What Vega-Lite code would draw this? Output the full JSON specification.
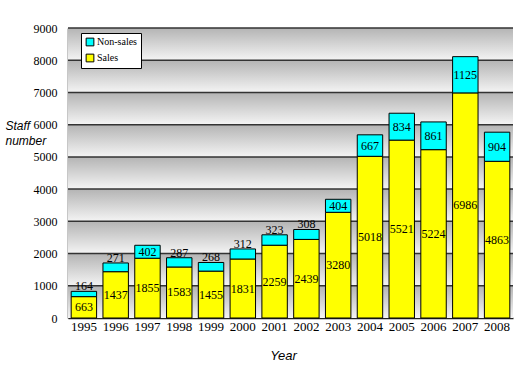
{
  "$schema": "https://vega.github.io/schema/vega-lite/v6.json",
  "width": 445,
  "height": 290,
  "autosize": "none",
  "padding": {"left": 68, "top": 28, "right": 7, "bottom": 68},
  "background": "white",
  "config": {
    "view": {"stroke": null},
    "axis": {"labelColor": "black", "domainColor": "#222", "domainWidth": 1.5, "grid": false, "labelFont": "Liberation Serif"},
    "axisY": {
      "ticks": false,
      "labelPadding": 11,
      "labelFont": "Liberation Serif",
      "labelFontSize": 12,
      "titleAngle": 0,
      "titleAlign": "left",
      "titleBaseline": "alphabetic",
      "titleX": -63,
      "titleY": 101,
      "titleLineHeight": 15,
      "titleFont": "Liberation Sans",
      "titleFontStyle": "italic",
      "titleFontWeight": "normal",
      "titleFontSize": 12,
      "titleColor": "black"
    },
    "axisX": {
      "labelAngle": 0,
      "labelFont": "Liberation Serif",
      "labelFontSize": 13,
      "labelPadding": 9,
      "ticks": true,
      "bandPosition": 0,
      "tickSize": -7,
      "tickColor": "#222",
      "tickWidth": 1.5,
      "titleFont": "Liberation Sans",
      "titleFontStyle": "italic",
      "titleFontWeight": "normal",
      "titleFontSize": 13,
      "titleColor": "black",
      "titleX": 215,
      "titleY": 41,
      "titleBaseline": "alphabetic"
    }
  },
  "datasets": {
    "staff": [
      {"year": "1995", "type": "Sales", "value": 663}, {"year": "1995", "type": "Non-sales", "value": 164},
      {"year": "1996", "type": "Sales", "value": 1437}, {"year": "1996", "type": "Non-sales", "value": 271},
      {"year": "1997", "type": "Sales", "value": 1855}, {"year": "1997", "type": "Non-sales", "value": 402},
      {"year": "1998", "type": "Sales", "value": 1583}, {"year": "1998", "type": "Non-sales", "value": 287},
      {"year": "1999", "type": "Sales", "value": 1455}, {"year": "1999", "type": "Non-sales", "value": 268},
      {"year": "2000", "type": "Sales", "value": 1831}, {"year": "2000", "type": "Non-sales", "value": 312},
      {"year": "2001", "type": "Sales", "value": 2259}, {"year": "2001", "type": "Non-sales", "value": 323},
      {"year": "2002", "type": "Sales", "value": 2439}, {"year": "2002", "type": "Non-sales", "value": 308},
      {"year": "2003", "type": "Sales", "value": 3280}, {"year": "2003", "type": "Non-sales", "value": 404},
      {"year": "2004", "type": "Sales", "value": 5018}, {"year": "2004", "type": "Non-sales", "value": 667},
      {"year": "2005", "type": "Sales", "value": 5521}, {"year": "2005", "type": "Non-sales", "value": 834},
      {"year": "2006", "type": "Sales", "value": 5224}, {"year": "2006", "type": "Non-sales", "value": 861},
      {"year": "2007", "type": "Sales", "value": 6986}, {"year": "2007", "type": "Non-sales", "value": 1125},
      {"year": "2008", "type": "Sales", "value": 4863}, {"year": "2008", "type": "Non-sales", "value": 904}
    ],
    "bands": [
      {"lo": 0, "hi": 1000}, {"lo": 1000, "hi": 2000}, {"lo": 2000, "hi": 3000},
      {"lo": 3000, "hi": 4000}, {"lo": 4000, "hi": 5000}, {"lo": 5000, "hi": 6000},
      {"lo": 6000, "hi": 7000}, {"lo": 7000, "hi": 8000}, {"lo": 8000, "hi": 9000}
    ]
  },
  "layer": [
    {
      "data": {"name": "bands"},
      "mark": {
        "type": "rect",
        "color": {
          "gradient": "linear", "x1": 0, "y1": 0, "x2": 0, "y2": 1,
          "stops": [{"offset": 0, "color": "#b4b4b4"}, {"offset": 1, "color": "#f4f4f4"}]
        }
      },
      "encoding": {
        "y": {
          "field": "lo", "type": "quantitative",
          "scale": {"domain": [0, 9000], "nice": false},
          "axis": {"values": [0, 1000, 2000, 3000, 4000, 5000, 6000, 7000, 8000, 9000], "format": "d", "title": ["Staff", "number"], "labelFont": "Liberation Serif", "labelFontSize": 12}
        },
        "y2": {"field": "hi"}
      }
    },
    {
      "data": {"name": "bands"},
      "mark": {"type": "rule", "color": "#333333", "strokeWidth": 1.5},
      "encoding": {
        "y": {"field": "hi", "type": "quantitative",
          "axis": {"values": [0, 1000, 2000, 3000, 4000, 5000, 6000, 7000, 8000, 9000], "format": "d", "title": ["Staff", "number"], "labelFont": "Liberation Serif", "labelFontSize": 12}}
      }
    },
    {
      "data": {"name": "staff"},
      "mark": {"type": "bar", "stroke": "black", "strokeWidth": 1},
      "encoding": {
        "x": {
          "field": "year", "type": "ordinal",
          "scale": {"paddingInner": 0.2, "paddingOuter": 0.1},
          "axis": {"title": "Year", "labelFont": "Liberation Serif", "labelFontSize": 13}
        },
        "y": {"field": "value", "type": "quantitative", "stack": "zero",
          "axis": {"values": [0, 1000, 2000, 3000, 4000, 5000, 6000, 7000, 8000, 9000], "format": "d", "title": ["Staff", "number"], "labelFont": "Liberation Serif", "labelFontSize": 12}},
        "color": {
          "field": "type", "type": "nominal",
          "scale": {"domain": ["Non-sales", "Sales"], "range": ["#00ffff", "#ffff00"]},
          "legend": {
            "orient": "none",
            "legendX": 13,
            "legendY": 5,
            "title": null,
            "fillColor": "white",
            "strokeColor": "black",
            "padding": 4,
            "symbolType": "square",
            "symbolSize": 60,
            "symbolStrokeColor": "black",
            "symbolStrokeWidth": 1,
            "labelFont": "Liberation Serif",
            "labelFontSize": 10,
            "labelColor": "black",
            "labelOffset": 2,
            "rowPadding": 4
          }
        },
        "order": {"field": "type", "sort": "descending"}
      }
    },
    {
      "data": {"name": "staff"},
      "transform": [
        {"stack": "value", "groupby": ["year"], "sort": [{"field": "type", "order": "descending"}], "as": ["v0", "v1"]},
        {"calculate": "(datum.v0 + datum.v1) / 2", "as": "mid"},
        {"filter": "datum.type == 'Sales' || datum.value >= 400"}
      ],
      "mark": {"type": "text", "font": "Liberation Serif", "fontSize": 12, "color": "black", "baseline": "middle"},
      "encoding": {
        "x": {"field": "year", "type": "ordinal", "axis": {"title": "Year", "labelFont": "Liberation Serif", "labelFontSize": 13}},
        "y": {"field": "mid", "type": "quantitative",
          "axis": {"values": [0, 1000, 2000, 3000, 4000, 5000, 6000, 7000, 8000, 9000], "format": "d", "title": ["Staff", "number"], "labelFont": "Liberation Serif", "labelFontSize": 12}},
        "text": {"field": "value", "type": "quantitative"}
      }
    },
    {
      "data": {"name": "staff"},
      "transform": [
        {"stack": "value", "groupby": ["year"], "sort": [{"field": "type", "order": "descending"}], "as": ["v0", "v1"]},
        {"filter": "datum.type == 'Non-sales' && datum.value < 400"}
      ],
      "mark": {"type": "text", "font": "Liberation Serif", "fontSize": 12, "color": "black", "baseline": "bottom", "dy": 2},
      "encoding": {
        "x": {"field": "year", "type": "ordinal", "axis": {"title": "Year", "labelFont": "Liberation Serif", "labelFontSize": 13}},
        "y": {"field": "v1", "type": "quantitative",
          "axis": {"values": [0, 1000, 2000, 3000, 4000, 5000, 6000, 7000, 8000, 9000], "format": "d", "title": ["Staff", "number"], "labelFont": "Liberation Serif", "labelFontSize": 12}},
        "text": {"field": "value", "type": "quantitative"}
      }
    }
  ]
}
